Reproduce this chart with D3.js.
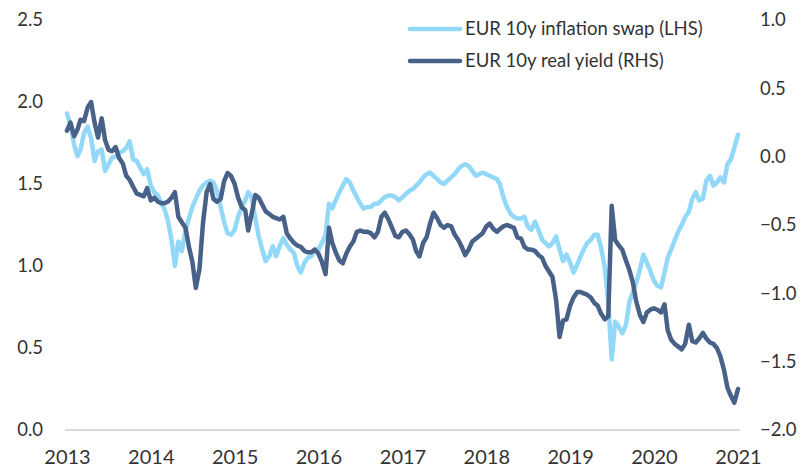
<!DOCTYPE html>
<html lang="en">

<head>
  <meta charset="UTF-8">
  <title>EUR 10y inflation swap vs real yield</title>
  <script src="https://d3js.org/d3.v7.min.js"></script>
  <style>
    body { margin: 0; background: #fff; }
    svg text { font-family: Lato, "Open Sans", sans-serif; fill: #333; }
  </style>
</head>

<body>

  <svg id="chart" width="803" height="470"></svg>

  <script>
    // Observations twice a month (1st and 16th), Jan 2013 to Jan 2021
    const startDate = "2013-01-01";

    // EUR 10y inflation swap, left axis (one row per year)
    const swapValues = [
      1.93, 1.86, 1.74, 1.67, 1.71, 1.81, 1.85, 1.78, 1.64, 1.70, 1.71, 1.58, 1.62, 1.66, 1.67, 1.69, 1.70, 1.72, 1.76, 1.65, 1.64, 1.60, 1.56, 1.59,
      1.49, 1.45, 1.43, 1.38, 1.35, 1.28, 1.16, 1.00, 1.15, 1.09, 1.22, 1.29, 1.36, 1.41, 1.46, 1.49, 1.51, 1.52, 1.51, 1.46, 1.36, 1.27, 1.20, 1.19,
      1.22, 1.30, 1.36, 1.40, 1.45, 1.42, 1.29, 1.18, 1.10, 1.03, 1.06, 1.12, 1.06, 1.12, 1.17, 1.13, 1.10, 1.08, 1.00, 0.96, 1.02, 1.05, 1.06, 1.10,
      1.10, 1.14, 1.19, 1.38, 1.35, 1.40, 1.45, 1.49, 1.53, 1.51, 1.46, 1.42, 1.38, 1.35, 1.36, 1.36, 1.38, 1.38, 1.40, 1.42, 1.43, 1.43, 1.42, 1.40,
      1.42, 1.44, 1.46, 1.47, 1.49, 1.51, 1.54, 1.56, 1.57, 1.55, 1.53, 1.51, 1.50, 1.52, 1.54, 1.56, 1.59, 1.61, 1.62, 1.61, 1.58, 1.55, 1.56, 1.57,
      1.56, 1.55, 1.54, 1.53, 1.50, 1.42, 1.36, 1.32, 1.30, 1.29, 1.29, 1.30, 1.24, 1.22, 1.27, 1.22, 1.16, 1.14, 1.12, 1.14, 1.18, 1.10, 1.03, 1.07,
      1.02, 0.96, 1.01, 1.06, 1.10, 1.14, 1.16, 1.19, 1.19, 1.11, 0.99, 0.78, 0.43, 0.66, 0.63, 0.59, 0.64, 0.78, 0.84, 0.90, 0.98, 1.07, 1.02, 0.97,
      0.91, 0.88, 0.87, 0.96, 1.05, 1.10, 1.16, 1.21, 1.25, 1.30, 1.33, 1.41, 1.45, 1.40, 1.41, 1.52, 1.55, 1.49, 1.51, 1.54, 1.51, 1.62, 1.65, 1.72,
      1.80
    ];

    // EUR 10y real yield, right axis (one row per year)
    const realValues = [
      0.19, 0.25, 0.15, 0.20, 0.27, 0.26, 0.36, 0.40, 0.25, 0.14, 0.28, 0.12, 0.05, 0.04, 0.07, -0.01, -0.05, -0.14, -0.17, -0.22, -0.27, -0.28, -0.29, -0.23,
      -0.32, -0.30, -0.33, -0.34, -0.34, -0.33, -0.30, -0.26, -0.44, -0.48, -0.52, -0.66, -0.77, -0.96, -0.82, -0.49, -0.26, -0.20, -0.31, -0.33, -0.31, -0.18, -0.12, -0.14,
      -0.20, -0.30, -0.37, -0.39, -0.54, -0.42, -0.28, -0.30, -0.35, -0.40, -0.42, -0.44, -0.45, -0.46, -0.44, -0.56, -0.60, -0.63, -0.65, -0.66, -0.69, -0.70, -0.70, -0.68,
      -0.71, -0.77, -0.86, -0.52, -0.63, -0.70, -0.76, -0.78, -0.71, -0.66, -0.62, -0.55, -0.54, -0.55, -0.55, -0.56, -0.59, -0.55, -0.44, -0.41, -0.46, -0.52, -0.58, -0.59,
      -0.55, -0.54, -0.57, -0.61, -0.69, -0.73, -0.63, -0.59, -0.49, -0.41, -0.45, -0.50, -0.52, -0.50, -0.51, -0.57, -0.61, -0.66, -0.72, -0.68, -0.62, -0.60, -0.58, -0.56,
      -0.51, -0.49, -0.53, -0.55, -0.53, -0.51, -0.50, -0.51, -0.52, -0.59, -0.60, -0.66, -0.68, -0.68, -0.69, -0.72, -0.74, -0.80, -0.84, -0.88, -1.05, -1.32, -1.20, -1.19,
      -1.09, -1.03, -0.99, -0.99, -1.00, -1.01, -1.03, -1.07, -1.09, -1.15, -1.19, -1.17, -0.36, -0.61, -0.65, -0.68, -0.76, -0.83, -0.92, -1.06, -1.16, -1.21, -1.14, -1.12,
      -1.11, -1.12, -1.14, -1.08, -1.27, -1.34, -1.37, -1.39, -1.41, -1.37, -1.23, -1.35, -1.36, -1.33, -1.29, -1.33, -1.36, -1.37, -1.40, -1.46, -1.56, -1.69, -1.75, -1.80,
      -1.70
    ];

    const yearTicks = ["2013", "2014", "2015", "2016", "2017", "2018", "2019", "2020", "2021"];
    const leftTicks = [0, 0.5, 1, 1.5, 2, 2.5];
    const rightTicks = [-2, -1.5, -1, -0.5, 0, 0.5, 1];
    const seriesNames = ["EUR 10y inflation swap (LHS)", "EUR 10y real yield (RHS)"];
    const seriesColors = ["#92d8f8", "#486189"];

    // Build the dates: 1st and 16th of each month
    const start = d3.timeParse("%Y-%m-%d")(startDate);
    const dates = swapValues.map((d, i) => {
      const m = d3.timeMonth.offset(start, Math.floor(i / 2));
      return i % 2 ? d3.timeDay.offset(m, 15) : m;
    });

    const svg = d3.select("#chart");
    const parseYear = d3.timeParse("%Y");

    // Scales
    const x = d3.scaleTime()
      .domain([parseYear("2013"), parseYear("2021")])
      .range([67, 738]);
    const yLeft = d3.scaleLinear().domain([0, 2.5]).range([430, 20]);
    const yRight = d3.scaleLinear().domain([-2, 1]).range([430, 20]);

    // Baseline
    svg.append("line")
      .attr("x1", 65).attr("x2", 740)
      .attr("y1", yLeft(0)).attr("y2", yLeft(0))
      .attr("stroke", "#d9d9d9")
      .attr("stroke-width", 2);

    // Left axis
    const leftAxis = svg.append("g")
      .attr("transform", "translate(43,0)")
      .call(d3.axisLeft(yLeft).tickValues(leftTicks).tickFormat(d3.format(".1f")).tickSize(0).tickPadding(0));
    leftAxis.select(".domain").remove();
    leftAxis.selectAll("text").attr("font-size", 18.5).attr("fill", "#333");

    // Right axis
    const rightAxis = svg.append("g")
      .attr("transform", "translate(760,0)")
      .call(d3.axisRight(yRight).tickValues(rightTicks).tickFormat(d3.format(".1f")).tickSize(0).tickPadding(0));
    rightAxis.select(".domain").remove();
    rightAxis.selectAll("text").attr("font-size", 18.5).attr("fill", "#333");

    // Bottom axis (year labels)
    const bottomAxis = svg.append("g")
      .attr("transform", "translate(0,445)")
      .call(d3.axisBottom(x).tickValues(yearTicks.map(parseYear)).tickFormat(d3.timeFormat("%Y")).tickSize(0).tickPadding(0));
    bottomAxis.select(".domain").remove();
    bottomAxis.selectAll("text").attr("font-size", 20).attr("dy", "0.95em").attr("fill", "#333");

    // Lines
    const swapLine = d3.line()
      .x((d, i) => x(dates[i]))
      .y(d => yLeft(d));
    const realLine = d3.line()
      .x((d, i) => x(dates[i]))
      .y(d => yRight(d));

    svg.append("path")
      .datum(swapValues)
      .attr("d", swapLine)
      .attr("fill", "none")
      .attr("stroke", seriesColors[0])
      .attr("stroke-width", 4.5)
      .attr("stroke-linejoin", "round")
      .attr("stroke-linecap", "round");

    svg.append("path")
      .datum(realValues)
      .attr("d", realLine)
      .attr("fill", "none")
      .attr("stroke", seriesColors[1])
      .attr("stroke-width", 4.5)
      .attr("stroke-linejoin", "round")
      .attr("stroke-linecap", "round");

    // Legend
    const legend = svg.append("g").attr("transform", "translate(410,29)");
    seriesNames.forEach((name, i) => {
      const row = legend.append("g").attr("transform", `translate(0,${i * 32})`);
      row.append("line")
        .attr("x1", 0).attr("x2", 50)
        .attr("stroke", seriesColors[i])
        .attr("stroke-width", 4.5)
        .attr("stroke-linecap", "round");
      row.append("text")
        .attr("x", 55)
        .attr("dy", "0.35em")
        .attr("font-size", 18.5)
        .text(name);
    });
  </script>

</body>

</html>
